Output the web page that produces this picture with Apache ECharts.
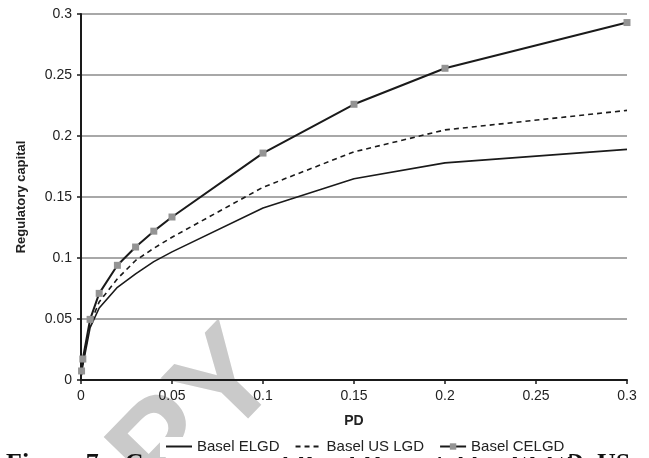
<!DOCTYPE html>
<html>
<head>
<meta charset="utf-8">
<script src="https://cdn.jsdelivr.net/npm/echarts@6/dist/echarts.min.js"></script>
<style>
html,body{margin:0;padding:0;background:#fff;}
#c{width:649px;height:458px;}
</style>
</head>
<body>
<div id="c"></div>
<script>
const pd = [0.0003, 0.001, 0.005, 0.01, 0.02, 0.03, 0.04, 0.05, 0.1, 0.15, 0.2, 0.3];
const elgd = [0.004, 0.012, 0.043, 0.059, 0.076, 0.087, 0.097, 0.105, 0.141, 0.165, 0.178, 0.189];
const usLgd = [0.005, 0.014, 0.046, 0.064, 0.083, 0.098, 0.108, 0.117, 0.158, 0.187, 0.205, 0.221];
const celgd = [0.0074, 0.0172, 0.0497, 0.071, 0.094, 0.109, 0.122, 0.1336, 0.186, 0.226, 0.2555, 0.293];
const seriesNames = ['Basel ELGD', 'Basel US LGD', 'Basel CELGD'];
const xTitle = 'PD';
const yTitle = 'Regulatory capital';
const caption = 'Figure 7    Comparison of Basel II capital for ELGD, US';
const watermark = 'PY';

const pair = (ys) => pd.map((x, i) => [x, ys[i]]);
const chart = echarts.init(document.getElementById('c'));
const ink = '#1a1a1a';
chart.setOption({
  animation: false,
  backgroundColor: '#fff',
  grid: {left: 81, right: 22, top: 14, bottom: 78},
  graphic: [
    {type: 'text', z: -10, x: 198, y: 418, rotation: 0.8,
     style: {text: watermark, font: 'bold 132px Arial', fill: '#cacaca', textAlign: 'center', textVerticalAlign: 'middle'}},
    {type: 'text', z: 0, x: 6, y: 451,
     style: {text: caption, font: 'bold 26px "Liberation Serif"', fill: '#111'}}
  ],
  legend: {
    left: 160, top: 437, z: 10,
    backgroundColor: '#fff',
    padding: [2, 5, 3, 5],
    itemWidth: 26, itemHeight: 8, itemGap: 15,
    textStyle: {fontFamily: 'Arial', fontSize: 15, color: '#222'},
    data: [
      {name: seriesNames[0], itemStyle: {opacity: 0}},
      {name: seriesNames[1], itemStyle: {opacity: 0}},
      {name: seriesNames[2]}
    ]
  },
  xAxis: {
    type: 'value', min: 0, max: 0.3, interval: 0.05,
    name: xTitle, nameLocation: 'middle', nameGap: 34,
    nameTextStyle: {fontFamily: 'Arial', fontWeight: 'bold', fontSize: 14, color: '#222'},
    axisLine: {onZero: false, lineStyle: {color: ink, width: 2}},
    axisTick: {show: true, length: 4, lineStyle: {color: ink, width: 1.5}},
    axisLabel: {fontFamily: 'Arial', fontSize: 14, color: '#222', margin: 9},
    splitLine: {show: false}
  },
  yAxis: {
    type: 'value', min: 0, max: 0.3, interval: 0.05,
    name: yTitle, nameLocation: 'middle', nameGap: 53,
    nameTextStyle: {fontFamily: 'Arial', fontWeight: 'bold', fontSize: 13, color: '#222'},
    axisLine: {show: true, lineStyle: {color: ink, width: 2}},
    axisTick: {show: true, length: 4, lineStyle: {color: ink, width: 1.5}},
    axisLabel: {fontFamily: 'Arial', fontSize: 14, color: '#222', margin: 9},
    splitLine: {show: true, lineStyle: {color: '#a8a8a8', width: 2}}
  },
  series: [
    {name: seriesNames[0], type: 'line', data: pair(elgd), symbol: 'none',
     lineStyle: {color: ink, width: 1.6}, itemStyle: {color: ink}},
    {name: seriesNames[1], type: 'line', data: pair(usLgd), symbol: 'none',
     lineStyle: {color: ink, width: 1.6, type: [5, 4]}, itemStyle: {color: ink}},
    {name: seriesNames[2], type: 'line', data: pair(celgd), symbol: 'rect', symbolSize: 7,
     lineStyle: {color: ink, width: 2}, itemStyle: {color: '#949494'}}
  ]
});
</script>
</body>
</html>
